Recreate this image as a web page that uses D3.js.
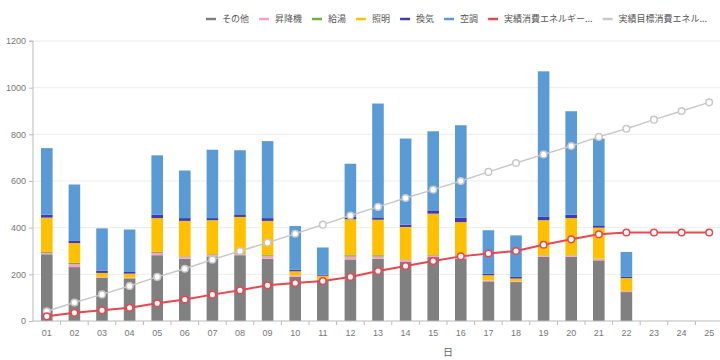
<!DOCTYPE html>
<html>
<head>
<meta charset="utf-8">
<script src="https://cdn.jsdelivr.net/npm/d3@7"></script>
<style>
  body { margin: 0; background: #fff; }
  svg { font-family: "Noto Sans CJK JP", "Noto Sans", sans-serif; }
  .axis text { fill: #777; font-size: 9px; }
  .axis path, .axis line { stroke: #bbb; }
</style>
</head>
<body>
<div id="chart"></div>
<script>
/* DATA */
const days = ["01","02","03","04","05","06","07","08","09","10","11","12","13",
  "14","15","16","17","18","19","20","21","22","23","24","25"];

// stacked bar series (kWh per day)
const other       = [286,231,186,183,282,267,277,282,267,189,175,264,266,253,274,268,170,167,275,275,260,124,null,null,null];
const elevator    = [6,12,3,3,10,7,6,5,10,7,4,12,10,8,5,9,4,3,5,5,5,5,null,null,null];
const hotWater    = [4,6,0,0,4,3,3,3,5,0,2,6,6,3,3,5,0,0,2,2,2,0,null,null,null];
const lighting    = [147,85,17,17,145,152,146,156,147,17,13,154,152,139,178,142,22,12,150,159,133,55,null,null,null];
const ventilation = [13,9,10,7,15,12,9,11,12,7,4,10,10,10,14,19,7,7,14,15,10,5,null,null,null];
const aircon      = [285,242,181,182,254,204,293,275,330,187,117,228,488,369,339,396,186,178,624,443,372,107,null,null,null];

// line series
const actualLine = [20,35,46,57,76,92,113,132,153,163,171,189,214,236,257,277,289,300,327,350,372,379,379,379,379];
const targetLine = [42,79,114,150,189,224,263,300,336,374,413,452,489,527,563,600,639,677,714,750,789,824,863,900,937];

const yTicks = [0,200,400,600,800,1000,1200];

const barSeries = [
  { name: "その他", values: other,       color: "#808080" },
  { name: "昇降機", values: elevator,    color: "#ff9fc8" },
  { name: "給湯",   values: hotWater,    color: "#70ad47" },
  { name: "照明",   values: lighting,    color: "#ffc000" },
  { name: "換気",   values: ventilation, color: "#3c3cb4" },
  { name: "空調",   values: aircon,      color: "#5b9bd5" }
];
const lineSeries = [
  { name: "実績消費エネルギー...", values: actualLine, color: "#e8474f", width: 2 },
  { name: "実績目標消費エネル...", values: targetLine, color: "#c8c8c8", width: 1.5 }
];

/* CONSTANTS */
const width = 720, height = 360,
  margin = { top: 41, bottom: 39, left: 33, right: -3 };

const svg = d3.select("#chart").append("svg")
  .attr("width", width)
  .attr("height", height);

/* SCALES */
const xScale = d3.scaleBand()
  .domain(days)
  .range([margin.left, width - margin.right])
  .paddingInner(0.58)
  .paddingOuter(0.29);

const yScale = d3.scaleLinear()
  .domain([0, 1200])
  .range([height - margin.bottom, margin.top]);

/* GRID */
svg.append("g")
  .selectAll("line")
  .data(yTicks.filter(d => d > 0))
  .join("line")
  .attr("x1", margin.left)
  .attr("x2", width)
  .attr("y1", d => yScale(d))
  .attr("y2", d => yScale(d))
  .attr("stroke", "#ececec");

/* STACKED BARS */
const table = days.map((d, i) => {
  const row = { day: d };
  barSeries.forEach(s => row[s.name] = s.values[i] || 0);
  return row;
});
const stack = d3.stack().keys(barSeries.map(s => s.name))(table);

svg.append("g")
  .selectAll("g")
  .data(stack)
  .join("g")
  .attr("fill", (d, i) => barSeries[i].color)
  .selectAll("rect")
  .data(d => d)
  .join("rect")
  .attr("x", d => xScale(d.data.day))
  .attr("width", xScale.bandwidth())
  .attr("y", d => yScale(d[1]))
  .attr("height", d => yScale(d[0]) - yScale(d[1]));

/* AXES */
const yAxis = d3.axisLeft(yScale).tickValues(yTicks).tickFormat(d3.format("d"))
  .tickSize(4).tickPadding(3);
svg.append("g")
  .attr("class", "axis y-axis")
  .attr("transform", `translate(${margin.left},0)`)
  .call(yAxis)
  .call(g => g.select(".domain").attr("d", `M-4,${yScale(1200)}H0V${yScale(0)}`));

const xAxis = d3.axisBottom(xScale).tickSize(0).tickPadding(9);
const xg = svg.append("g")
  .attr("class", "axis x-axis")
  .attr("transform", `translate(0,${yScale(0)})`)
  .call(xAxis);
xg.select(".domain").attr("d", `M${margin.left},0H${width}`);
// small ticks between categories
xg.append("g")
  .selectAll("line")
  .data(days.slice(1))
  .join("line")
  .attr("x1", d => xScale(d) - xScale.step() * xScale.paddingInner() / 2)
  .attr("x2", d => xScale(d) - xScale.step() * xScale.paddingInner() / 2)
  .attr("y1", 0)
  .attr("y2", 4);

svg.append("text")
  .attr("x", 448)
  .attr("y", 356)
  .attr("text-anchor", "middle")
  .attr("font-size", 10)
  .attr("fill", "#666")
  .text("日");

/* LINES */
const lineFunc = d3.line()
  .x((d, i) => xScale(days[i]) + xScale.bandwidth() / 2)
  .y(d => yScale(d));

[lineSeries[1], lineSeries[0]].forEach(s => {
  svg.append("path")
    .attr("fill", "none")
    .attr("stroke", s.color)
    .attr("stroke-width", s.width)
    .attr("d", lineFunc(s.values));
  svg.append("g")
    .selectAll("circle")
    .data(s.values)
    .join("circle")
    .attr("cx", (d, i) => xScale(days[i]) + xScale.bandwidth() / 2)
    .attr("cy", d => yScale(d))
    .attr("r", 3.3)
    .attr("fill", "#fff")
    .attr("stroke", s.color)
    .attr("stroke-width", 1.5);
});

/* LEGEND */
const legendItems = [...barSeries, ...lineSeries];
const legend = svg.append("g").attr("transform", "translate(0,19)");
let lx = 206;
legendItems.forEach(s => {
  legend.append("line")
    .attr("x1", lx).attr("x2", lx + 10)
    .attr("stroke", s.color)
    .attr("stroke-width", 2.5);
  const t = legend.append("text")
    .attr("x", lx + 16)
    .attr("dy", "0.35em")
    .attr("font-size", 9)
    .attr("fill", "#555")
    .text(s.name);
  lx += 16 + t.node().getComputedTextLength() + 10;
});
</script>
</body>
</html>
